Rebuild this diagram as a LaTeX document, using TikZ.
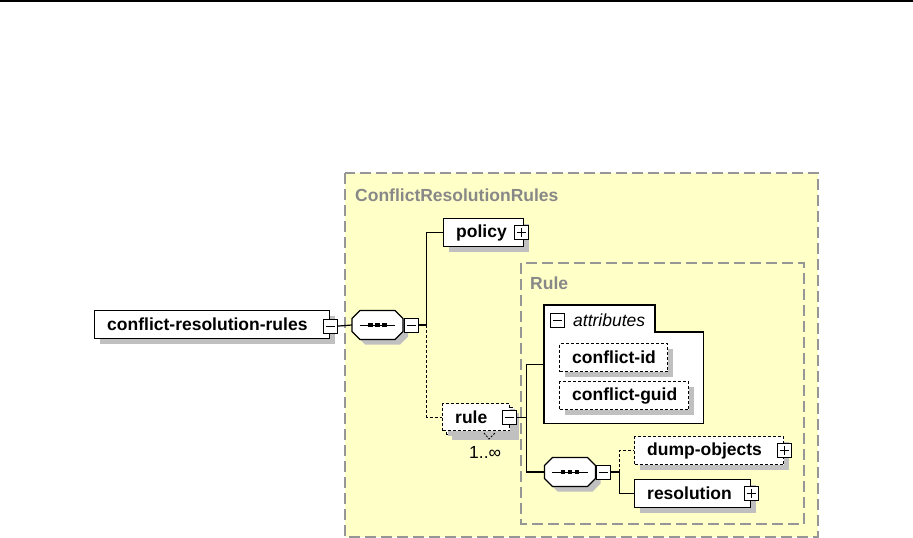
\documentclass[tikz,border=0pt]{standalone}
\usepackage{fontspec}
\setmainfont{Liberation Sans}
\usetikzlibrary{shadows}
\definecolor{bgyellow}{RGB}{255,255,200}
\definecolor{frameg}{RGB}{150,150,150}
\definecolor{titleg}{RGB}{136,136,136}
\definecolor{shadowg}{RGB}{192,192,192}
\tikzset{
  elem/.style={draw=black, line width=1.2pt, fill=white, anchor=north west, inner sep=0pt,
    general shadow={fill=shadowg, shadow xshift=5pt, shadow yshift=-5pt}},
  optelem/.style={elem, dashed, dash pattern=on 3pt off 2pt},
  lbl/.style={font=\bfseries\fontsize{17.5}{20}\selectfont, anchor=west, inner sep=0pt},
  title/.style={font=\bfseries\fontsize{17.5}{20}\selectfont, text=titleg, anchor=west, inner sep=0pt},
  icon/.style={draw=black, fill=white, line width=1pt, minimum size=14pt, inner sep=0pt},
  frame/.style={draw=frameg, line width=1.5pt, dash pattern=on 11pt off 5pt},
  conn/.style={draw=black, line width=1.2pt},
  optconn/.style={conn, dash pattern=on 3pt off 2pt},
  seqbox/.style={minimum width=51pt, minimum height=29pt, inner sep=0pt},
}
\newcommand\xbox[7]{%
  \node[#2, minimum width=#5pt, minimum height=#6pt] (#1) at (#3,#4) {};
  \node[lbl] (#1-t) at ([xshift=13pt]#1.west) {#7};}
\newcommand\minusicon[2]{%
  \node[icon] (#1) at (#2) {};
  \draw[line width=1pt] ([xshift=3pt]#1.west) -- ([xshift=-3pt]#1.east);}
\newcommand\plusicon[2]{%
  \minusicon{#1}{#2}%
  \draw[line width=1pt] ([yshift=3pt]#1.south) -- ([yshift=-3pt]#1.north);}
% octagon centred at (#1,#2), 51 x 29, chamfer 8
\newcommand\octa[2]{({#1-17.5},{#2-14.5}) -- ({#1+17.5},{#2-14.5}) -- ({#1+25.5},{#2-6.5})
  -- ({#1+25.5},{#2+6.5}) -- ({#1+17.5},{#2+14.5}) -- ({#1-17.5},{#2+14.5})
  -- ({#1-25.5},{#2+6.5}) -- ({#1-25.5},{#2-6.5}) -- cycle}
\newcommand\seqnode[3]{%
  \fill[shadowg] \octa{#2+5}{#3+5};
  \draw[line width=1.2pt, fill=white] \octa{#2}{#3};
  \node[seqbox] (#1) at (#2,#3) {};
  \draw[line width=1pt] ([xshift=8pt]#1.west) -- ([xshift=-8pt]#1.east);
  \foreach \dx in {-7,0,7} \fill ([xshift=\dx pt]#1.center) +(-2.2,-2.2) rectangle +(2.2,2.2);}
\begin{document}
\begin{tikzpicture}[x=1pt,y=-1pt]
\useasboundingbox (0,0) rectangle (913,538);
\fill[black] (0,0) rectangle (913,2);
% outer complex type frame
\draw[frame, fill=bgyellow] (345,173) rectangle (818,537);
\node[title] (ttl1) at (355,195) {ConflictResolutionRules};
% Rule type frame
\draw[frame] (521,263) rectangle (804,524);
\node[title] (ttl2) at (530,283) {Rule};
% root element
\xbox{crr}{elem}{94}{310}{235}{28}{conflict-resolution-rules}
\minusicon{crri}{[yshift=-1.5pt]crr.east}
% sequence 1
\seqnode{s1}{377.5}{325}
\minusicon{s1i}{[xshift=8pt]s1.east}
% policy
\xbox{policy}{elem}{443}{218}{80}{28}{policy}
\plusicon{policyi}{[xshift=-3pt]policy.east}
% rule (multiple occurrence, optional)
\node[optelem, minimum width=67pt, minimum height=27pt] (ruleb) at (446,407) {};
\node[optelem, minimum width=67pt, minimum height=27pt, general shadow={fill=none}] (rule) at (442,403) {};
\node[lbl] (rule-t) at ([xshift=13pt]rule.west) {rule};
\minusicon{rulei}{[xshift=-1pt]rule.east}
\draw[line width=0.8pt, dash pattern=on 2pt off 1.5pt] (484,433) -- (489,439) -- (495,433);
\node[font=\fontsize{17.5}{20}\selectfont, anchor=west, inner sep=0pt] (occ) at (469,452) {1..∞};
% attributes
\node[minimum width=159pt, minimum height=118pt, anchor=north west, inner sep=0pt] (attr) at (544,305) {};
\draw[line width=1.2pt, fill=white] (attr.north west) -- (655,305) -- (655,332) -- (attr.east |- 0,332)
  -- (attr.south east) -- (attr.south west) -- cycle;
\minusicon{attri}{557.5,320}
\node[font=\itshape\fontsize{17.5}{20}\selectfont, anchor=west, inner sep=0pt] (attr-t) at (573,320) {attributes};
\xbox{cid}{optelem}{559}{343}{108}{28}{conflict-id}
\xbox{cguid}{optelem}{559}{381}{129}{28}{conflict-guid}
% sequence 2
\seqnode{s2}{570}{472}
\minusicon{s2i}{[xshift=8pt]s2.east}
\xbox{dump}{optelem}{634}{436}{149}{28}{dump-objects}
\plusicon{dumpi}{[xshift=0pt]dump.east}
\xbox{res}{elem}{634}{479}{116}{28}{resolution}
\plusicon{resi}{[xshift=0pt]res.east}
% connectors
\draw[conn] (crri.east) -- (s1.west);
\draw[conn] (s1i.east) -- ++(8,0) |- (policy.west);
\draw[optconn] (s1i.east) ++(8,0) |- (rule.west);
\draw[conn] (rulei.east) -- ++(10,0) |- (attr.west);
\draw[conn] (rulei.east) ++(10,0) |- (s2.west);
\draw[conn] (s2i.east) -- ++(8,0) |- (res.west);
\draw[optconn] (s2i.east) ++(8,0) |- (dump.west);
\end{tikzpicture}
\end{document}
